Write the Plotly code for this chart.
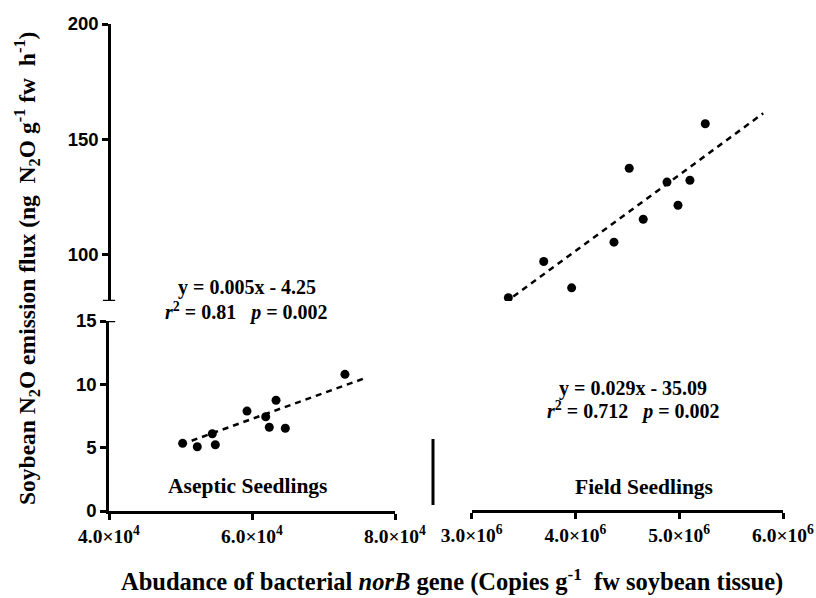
import plotly.graph_objects as go

# ---------------- data ----------------
aseptic_x = [50300, 52350, 54450, 54870, 59300, 61920, 62420, 63360, 64660, 73000]
aseptic_y = [5.34, 5.07, 6.10, 5.23, 7.89, 7.44, 6.61, 8.74, 6.53, 10.79]
aseptic_fit_x = [51560, 75710]
aseptic_fit_y = [5.55, 10.47]

field_x = [3.353e6, 3.694e6, 3.963e6, 4.371e6, 4.518e6, 4.653e6, 4.882e6, 4.988e6, 5.103e6, 5.251e6]
field_y = [81.4, 97.1, 85.7, 105.5, 137.5, 115.4, 131.5, 121.5, 132.3, 156.8]
field_fit_x = [3.401e6, 5.809e6]
field_fit_y = [81.95, 161.3]

x1_ticks = [4e4, 6e4, 8e4]
x1_ticktext = ["4.0×10<sup>4</sup>", "6.0×10<sup>4</sup>", "8.0×10<sup>4</sup>"]
x2_ticks = [3e6, 4e6, 5e6, 6e6]
x2_ticktext = ["3.0×10<sup>6</sup>", "4.0×10<sup>6</sup>", "5.0×10<sup>6</sup>", "6.0×10<sup>6</sup>"]
y1_ticks = [0, 5, 10, 15]
y2_ticks = [100, 150, 200]

eq_aseptic = ["y = 0.005x - 4.25", "<i>r</i><sup>2</sup> = 0.81   <i>p</i> = 0.002"]
eq_field = ["y = 0.029x - 35.09", "<i>r</i><sup>2</sup> = 0.712   <i>p</i> = 0.002"]

# ---------------- layout constants ----------------
W, H = 816, 598
def px(x):
    return x / W
def py(y):
    return 1 - y / H

SERIF = "Liberation Serif, Times New Roman, serif"
SANS = "Liberation Sans, Arial, sans-serif"

x1_dom = [px(109), px(395)]
x2_dom = [px(471.7), px(783)]
y1_dom = [py(511), py(321)]
y2_dom = [py(301), py(24)]

fig = go.Figure()

marker = dict(color="black", size=9)
dash_line = dict(color="black", width=2.5, dash="6px,5px")

fig.add_trace(go.Scatter(x=aseptic_fit_x, y=aseptic_fit_y, mode="lines", line=dash_line,
                         xaxis="x", yaxis="y", showlegend=False, hoverinfo="skip"))
fig.add_trace(go.Scatter(x=aseptic_x, y=aseptic_y, mode="markers", marker=marker,
                         xaxis="x", yaxis="y", showlegend=False))
fig.add_trace(go.Scatter(x=field_fit_x, y=field_fit_y, mode="lines", line=dash_line,
                         xaxis="x2", yaxis="y2", showlegend=False, hoverinfo="skip"))
fig.add_trace(go.Scatter(x=field_x, y=field_y, mode="markers", marker=marker,
                         xaxis="x2", yaxis="y2", showlegend=False))

axis_common = dict(showgrid=False, zeroline=False, showline=True, linecolor="black",
                   linewidth=2.5, ticks="outside", ticklen=6, tickwidth=2.5, tickcolor="black",
                   automargin=False)

xtickfont = dict(family=SERIF, size=19.5, color="black", weight="bold")
ytickfont = dict(family=SANS, size=18.5, color="black", weight="bold")

fig.update_layout(
    width=W, height=H, autosize=False,
    margin=dict(l=0, r=0, t=0, b=0, pad=0),
    paper_bgcolor="white", plot_bgcolor="rgba(0,0,0,0)",
    xaxis=dict(domain=x1_dom, range=[4e4, 8e4], tickvals=x1_ticks, ticktext=x1_ticktext,
               anchor="y", tickfont=xtickfont, **axis_common),
    xaxis2=dict(domain=x2_dom, range=[3e6, 6e6], tickvals=x2_ticks, ticktext=x2_ticktext,
                anchor="free", position=y1_dom[0], tickfont=xtickfont, **axis_common),
    yaxis=dict(domain=y1_dom, range=[0, 15], tickvals=y1_ticks, anchor="x",
               tickfont=ytickfont, **axis_common),
    yaxis2=dict(domain=y2_dom, range=[80, 200], tickvals=y2_ticks, anchor="free",
                position=x1_dom[0], tickfont=ytickfont, **axis_common),
)

# break caps on the y axis
cap = 0.0075
fig.add_shape(type="line", xref="paper", yref="y2", x0=x1_dom[0] - cap, x1=x1_dom[0] + cap,
              y0=80, y1=80, line=dict(color="black", width=2.5))
fig.add_shape(type="line", xref="paper", yref="y", x0=x1_dom[0] - cap, x1=x1_dom[0] + cap,
              y0=15, y1=15, line=dict(color="black", width=2.5))
# vertical separator bar between the two panels
fig.add_shape(type="line", xref="paper", yref="paper", x0=px(433), x1=px(433),
              y0=py(505), y1=py(439), line=dict(color="black", width=3))

ann_font = dict(family=SERIF, size=20, color="black", weight="bold")
label_font = dict(family=SERIF, size=21.5, color="black", weight="bold")

def add_text(text, x, y, font, **kw):
    fig.add_annotation(text=text, xref="paper", yref="paper", x=px(x), y=py(y),
                       xanchor="center", yanchor="middle", showarrow=False, font=font, **kw)

add_text(eq_aseptic[0], 247, 287, ann_font)
add_text(eq_aseptic[1], 247, 311, ann_font)
add_text(eq_field[0], 633, 388, ann_font)
add_text(eq_field[1], 633, 410, ann_font)
add_text("Aseptic Seedlings", 248, 486, label_font)
add_text("Field Seedlings", 644, 487, label_font)

title_font = dict(family=SERIF, size=23.5, color="black", weight="bold")
add_text("Soybean N<sub>2</sub>O emission flux (ng  N<sub>2</sub>O g<sup>-1</sup> fw  h<sup>-1</sup>)",
         27, 269, title_font, textangle=-90)
add_text("Abudance of bacterial <i>norB</i> gene (Copies g<sup>-1</sup>  fw soybean tissue)",
         452, 580, dict(title_font, size=24.5))

fig.write_html("out.html")
